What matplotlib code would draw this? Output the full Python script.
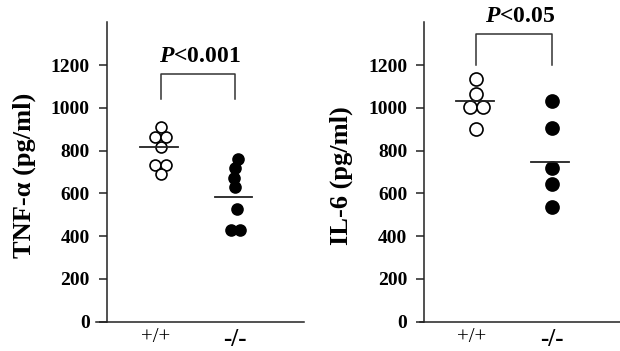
import matplotlib
matplotlib.use("Agg")
import matplotlib.pyplot as plt

plt.rcParams['font.family'] = ['Liberation Serif', 'DejaVu Serif']
plt.rcParams['mathtext.fontset'] = 'custom'
plt.rcParams['mathtext.bfit'] = 'Liberation Serif:bold:italic'

# Genotype groups
groups = ["+/+", "-/-"]

# TNF-alpha (pg/ml) per animal
tnf_wt = [911, 865, 865, 818, 732, 732, 689]
tnf_ko = [760, 718, 672, 630, 525, 428, 428]
tnf_wt_jitter = [0.0, -0.075, 0.075, 0.0, -0.075, 0.075, 0.0]
tnf_ko_jitter = [0.04, 0.0, -0.02, 0.0, 0.02, -0.06, 0.07]
tnf_means = [818, 584]
tnf_p = "<0.001"

# IL-6 (pg/ml) per animal
il6_wt = [1135, 1063, 1005, 1005, 901]
il6_ko = [1033, 907, 717, 642, 534]
il6_wt_jitter = [0.0, 0.0, -0.09, 0.08, 0.0]
il6_ko_jitter = [0.0, 0.0, 0.0, 0.0, 0.0]
il6_means = [1033, 745]
il6_p = "<0.05"

yticks = [0, 200, 400, 600, 800, 1000, 1200]

W, H = 620, 351
fig = plt.figure(figsize=(W / 100, H / 100), dpi=100)


def panel(rect, xlim, spine_x, wt, ko, wt_j, ko_j, means, ylabel, ptext,
          bracket, ptext_pos, msize, label_x):
    ax = fig.add_axes(rect)
    ax.set_xlim(*xlim)
    ax.set_ylim(0, 1400)
    for s in ("top", "right"):
        ax.spines[s].set_visible(False)
    ax.spines["left"].set_position(("data", spine_x))
    ax.spines["left"].set_bounds(0, 1400)
    for s in ("left", "bottom"):
        ax.spines[s].set_linewidth(1.1)
        ax.spines[s].set_color("#222222")

    ax.set_yticks(yticks)
    ax.set_yticklabels([str(v) for v in yticks], fontsize=14, fontweight="bold")
    ax.tick_params(axis="y", direction="out", length=6, width=1.1, pad=6,
                   color="#222222")
    ax.set_xticks([-0.06, 1])
    ax.set_xticklabels(groups)
    ax.tick_params(axis="x", length=0, pad=5)
    xt = ax.get_xticklabels()
    xt[0].set_fontsize(15)
    xt[1].set_fontsize(18)
    xt[1].set_fontweight("bold")

    ax.scatter([0 + j for j in wt_j], wt, s=msize, facecolor="white",
               edgecolor="black", linewidth=1.2, zorder=3, clip_on=False)
    ax.scatter([1 + j for j in ko_j], ko, s=msize, facecolor="black",
               edgecolor="black", linewidth=1.2, zorder=3, clip_on=False)

    # group means
    for i, m in enumerate(means):
        ax.plot([i - 0.27, i + 0.23], [m, m], color="#222222", lw=1.3, zorder=4)

    # significance bracket
    top, leg = bracket
    ax.plot([0, 0, 1, 1], [leg, top, top, leg], color="#333333", lw=1.1,
            clip_on=False)
    ax.text(ptext_pos[0], ptext_pos[1], r"$\mathbfit{P}$" + ptext,
            ha="center", va="center", fontsize=17, fontweight="bold",
            clip_on=False)

    fig.text(label_x, 0.5, ylabel, rotation=90, ha="center", va="center",
             fontsize=19, fontweight="bold")
    return ax


bottom = (H - 321.5) / H
height = 299.2 / H

panel([96 / W, bottom, 208 / W, height], (-0.866, 1.926), -0.725,
      tnf_wt, tnf_ko, tnf_wt_jitter, tnf_ko_jitter, tnf_means,
      "TNF-\u03b1 (pg/ml)", tnf_p, (1157, 1041), (0.53, 1238), 62, 24 / W)

panel([420 / W, bottom, 200 / W, height], (-0.751, 1.908), -0.696,
      il6_wt, il6_ko, il6_wt_jitter, il6_ko_jitter, il6_means,
      "IL-6 (pg/ml)", il6_p, (1345, 1200), (0.58, 1427), 88, 341 / W)

fig.savefig("out.png", dpi=100)
